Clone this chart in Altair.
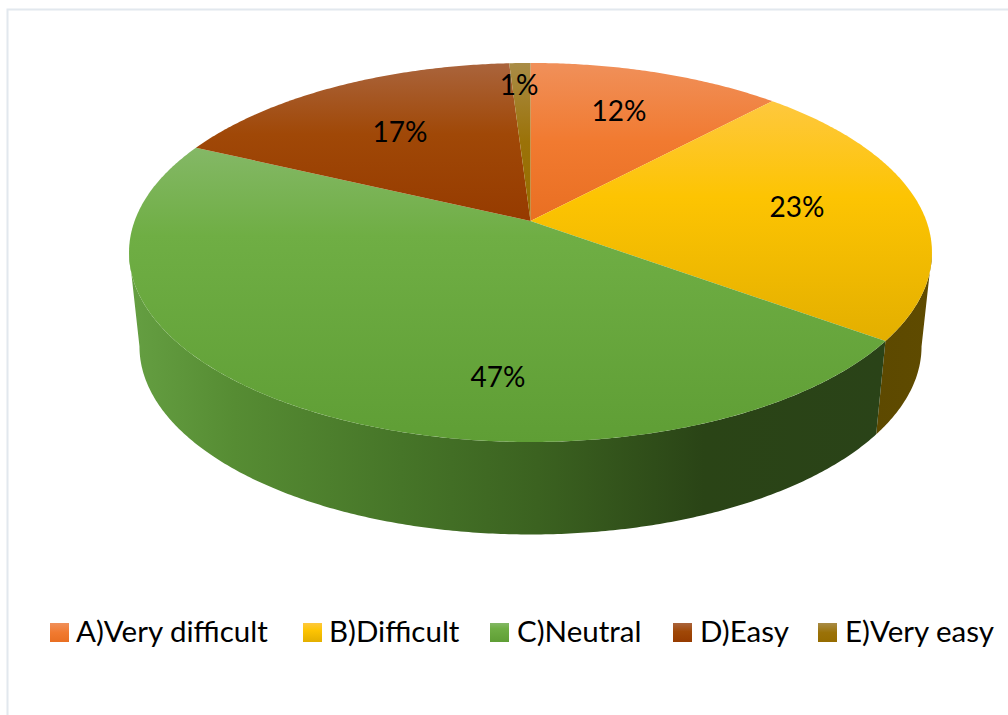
import math

import altair as alt
import pandas as pd

# Survey answers and their shares in percent, clockwise from twelve o'clock.
CATEGORIES = ["A)Very difficult", "B)Difficult", "C)Neutral", "D)Easy", "E)Very easy"]
SHARES = [12, 23, 47, 17, 1]

# Vertical shading of each slice's top face.
TOP_STOPS = [
    [("#f0905a", 0.0), ("#f17a30", 0.5), ("#e96f22", 1.0)],
    [("#fec83e", 0.0), ("#fdc402", 0.4), ("#e3af00", 1.0)],
    [("#84b866", 0.0), ("#6fae44", 0.3), ("#5f9e35", 1.0)],
    [("#aa643c", 0.0), ("#a04807", 0.45), ("#963b00", 1.0)],
    [("#a98c46", 0.0), ("#9b7208", 0.5), ("#966c00", 1.0)],
]

# Horizontal shading of the visible side walls (slices B and C only).
WALL_STOPS = {
    1: [("#5d4900", 0.0), ("#5f4b00", 1.0)],
    2: [("#659f42", 0.0), ("#568c33", 0.14), ("#467528", 0.36), ("#3b6220", 0.54),
        ("#2a4416", 0.76), ("#2a4318", 1.0)],
}

LABEL_POS = [(619, 121), (797, 217), (498, 387), (400, 142), (519, 95)]
LEGEND_SWATCH_X = [50, 303, 490, 673, 818]
LEGEND_TEXT_X = [76, 329, 517, 700, 845]

W, H = 1008, 715

# Perspective disc: apex, half width, half depth and foreshortening.
APEX_X, APEX_Y = 530.5, 221.0
A, B, K = 395.9, 184.3, 0.166
RIM_CY = 252.5


def rim_top(theta):
    u, v = math.sin(theta), math.cos(theta)
    w = 1 + K * v
    return APEX_X + A * u / w, APEX_Y - B * v / w


def rim_bottom(theta):
    x, y = rim_top(theta)
    return APEX_X + 0.974 * (x - APEX_X), 346.5 + 0.992 * (y - RIM_CY)


def arc(t0, t1, fn):
    n = max(2, int(abs(t1 - t0) / math.radians(0.5)))
    return [fn(t0 + (t1 - t0) * i / n) for i in range(n + 1)]


def gradient(stops, horizontal=False):
    return alt.Gradient(
        gradient="linear",
        stops=[alt.GradientStop(color=c, offset=o) for c, o in stops],
        x1=0, y1=0, x2=1 if horizontal else 0, y2=0 if horizontal else 1,
    )


X = alt.X("x:Q", axis=None, scale=alt.Scale(domain=[0, W], nice=False, zero=False))
Y = alt.Y("y:Q", axis=None, scale=alt.Scale(domain=[H, 0], nice=False, zero=False))


def polygon(points, fill):
    pts = points + [points[0]]
    df = pd.DataFrame([{"x": x, "y": y, "i": i} for i, (x, y) in enumerate(pts)])
    return (
        alt.Chart(df)
        .mark_line(fill=fill, stroke=None, strokeWidth=0, interpolate="linear")
        .encode(x=X, y=Y, order=alt.Order("i:Q"))
    )


edges = [0.0]
for s in SHARES:
    edges.append(edges[-1] + s)
angles = [math.tau * e / sum(SHARES) for e in edges]

# The silhouette of the disc leaves the rim where cos(theta) = -K.
sil_right = math.acos(-K)
sil_left = math.tau - sil_right

layers = []

# Frame along the top and left edges.
frame = pd.DataFrame({"x": [7.5, 7.5, W], "y": [H, 9.5, 9.5], "i": [0, 1, 2]})
layers.append(
    alt.Chart(frame).mark_line(color="#e2e8ee", strokeWidth=2).encode(x=X, y=Y, order=alt.Order("i:Q"))
)

# Side walls first, so the top faces sit over them.
for idx, stops in WALL_STOPS.items():
    t0 = max(angles[idx], sil_right)
    t1 = min(angles[idx + 1], sil_left)
    pts = arc(t0, t1, rim_top) + arc(t1, t0, rim_bottom)
    layers.append(polygon(pts, gradient(stops, horizontal=True)))

# Top faces.
for idx, stops in enumerate(TOP_STOPS):
    pts = [(APEX_X, APEX_Y)] + arc(angles[idx], angles[idx + 1], rim_top)
    layers.append(polygon(pts, gradient(stops)))

# Percentage labels.
labels = pd.DataFrame({
    "x": [p[0] for p in LABEL_POS],
    "y": [p[1] for p in LABEL_POS],
    "t": [f"{s}%" for s in SHARES],
})
layers.append(
    alt.Chart(labels)
    .mark_text(font="Lato", fontSize=28, color="#000000", align="center", baseline="alphabetic")
    .encode(x=X, y=Y, text="t:N")
)

# Legend row: swatches and their captions.
for idx, name in enumerate(CATEGORIES):
    x0 = LEGEND_SWATCH_X[idx]
    swatch = pd.DataFrame({"x": [x0], "x2": [x0 + 19], "y": [623], "y2": [642]})
    layers.append(
        alt.Chart(swatch)
        .mark_rect(fill=gradient(TOP_STOPS[idx]))
        .encode(x=X, x2="x2:Q", y=Y, y2="y2:Q")
    )

captions = pd.DataFrame({"x": LEGEND_TEXT_X, "y": [642] * 5, "t": CATEGORIES})
layers.append(
    alt.Chart(captions)
    .mark_text(font="Lato", fontSize=29.5, color="#000000", align="left", baseline="alphabetic")
    .encode(x=X, y=Y, text="t:N")
)

chart = (
    alt.layer(*layers)
    .properties(width=W, height=H, padding=0, autosize=alt.AutoSizeParams(type="none"), background="#ffffff")
    .configure_view(stroke=None)
)

chart.save("out.html", embed_options={"renderer": "svg", "actions": False})
